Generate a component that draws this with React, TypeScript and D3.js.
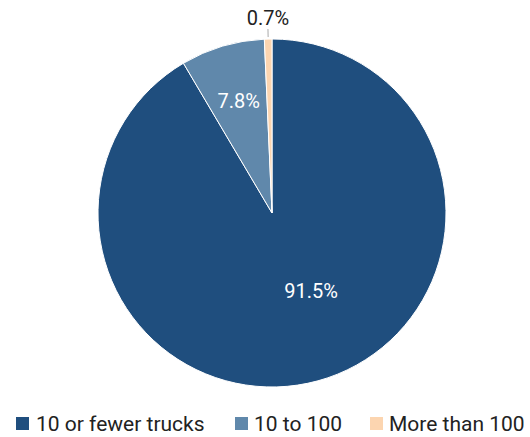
import React from "react";
import * as d3 from "d3";

const categories = ["10 or fewer trucks", "10 to 100", "More than 100"];
const values = [91.5, 7.8, 0.7];
const labels = ["91.5%", "7.8%", "0.7%"];
const colors = ["#1f4e7e", "#6088ab", "#fcd5b0"];

const W = 530;
const H = 437;
const cx = 272;
const cy = 213;
const R = 174;
const FONT = "Roboto, 'Noto Sans', sans-serif";

export default function App() {
  const pie = d3.pie<number>().sort(null).value((d) => d)(values);
  const arc = d3.arc<d3.PieArcDatum<number>>().innerRadius(0).outerRadius(R);

  const legendX = [16, 235, 370];

  return (
    <div style={{ position: "fixed", left: 0, top: 0 }}>
      <svg width={W} height={H} style={{ display: "block", background: "#fff" }}>
        <g transform={`translate(${cx},${cy})`}>
          {pie.map((p, i) => (
            <path key={i} d={arc(p) || ""} fill={colors[i]} stroke="#fff" strokeWidth={1} />
          ))}
          {pie.map((p, i) => {
            const mid = (p.startAngle + p.endAngle) / 2;
            if (i === 2) {
              const x0 = Math.sin(mid) * (R + 2);
              const y0 = -Math.cos(mid) * (R + 2);
              const x1 = Math.sin(mid) * (R + 10);
              const y1 = -Math.cos(mid) * (R + 10);
              return (
                <g key={i}>
                  <line x1={x0} y1={y0} x2={x1} y2={y1} stroke="#aaa" strokeWidth={1} />
                  <text x={x1} y={y1 - 4} textAnchor="middle" fontFamily={FONT} fontSize={20} fill="#222">
                    {labels[i]}
                  </text>
                </g>
              );
            }
            const lr = i === 0 ? R * 0.5 : R * 0.67;
            const ang = i === 0 ? mid - 0.2 : mid;
            const x = Math.sin(ang) * lr;
            const y = -Math.cos(ang) * lr;
            return (
              <text key={i} x={x} y={y} dy="0.35em" textAnchor="middle" fontFamily={FONT} fontSize={20} fill="#fff">
                {labels[i]}
              </text>
            );
          })}
        </g>
        {categories.map((c, i) => (
          <g key={c} transform={`translate(${legendX[i]},0)`}>
            <rect x={0} y={417} width={13} height={13} fill={colors[i]} />
            <text x={i === 0 ? 20 : 19} y={431} fontFamily={FONT} fontSize={21} fill="#222">
              {c}
            </text>
          </g>
        ))}
      </svg>
    </div>
  );
}
